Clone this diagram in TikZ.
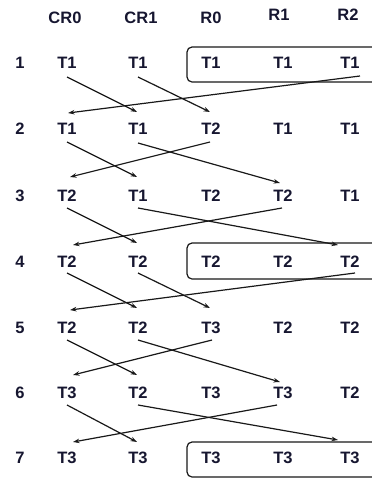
\documentclass[tikz,border=0pt]{standalone}
\usepackage{fontspec}
\setmainfont{Liberation Sans}
\usetikzlibrary{arrows.meta}
\definecolor{txt}{RGB}{22,22,48}
\definecolor{ln}{RGB}{25,25,25}
\begin{document}
\begin{tikzpicture}[x=1pt,y=-1pt,
  lab/.style={inner sep=0pt,text=txt,font=\fontsize{16.5}{18}\selectfont\bfseries},
  arr/.style={draw=ln,line width=1.2pt,-{Stealth[length=6.5pt,width=4.5pt]}},
  grp/.style={draw=ln,line width=1.2pt,rounded corners=5pt}]
\clip (0,0) rectangle (372,480);
\fill[white] (0,0) rectangle (372,480);
% headers
\node[lab] (hc0) at (65,18) {CR0};
\node[lab] (hc1) at (141,18) {CR1};
\node[lab] (hc2) at (211,18) {R0};
\node[lab] (hc3) at (279,15) {R1};
\node[lab] (hc4) at (348,15) {R2};
% row labels and cells
\foreach \r/\y/\a/\b/\c/\d/\e in {1/63/T1/T1/T1/T1/T1, 2/129/T1/T1/T2/T1/T1, 3/196/T2/T1/T2/T2/T1, 4/262/T2/T2/T2/T2/T2, 5/328/T2/T2/T3/T2/T2, 6/393/T3/T2/T3/T3/T2, 7/458/T3/T3/T3/T3/T3}{
  \node[lab] (n\r) at (20,\y) {\r};
  \node[lab] (r\r c0) at (67,\y) {\a};
  \node[lab] (r\r c1) at (138,\y) {\b};
  \node[lab] (r\r c2) at (211,\y) {\c};
  \node[lab] (r\r c3) at (283,\y) {\d};
  \node[lab] (r\r c4) at (350,\y) {\e};
}
% group boxes
\draw[grp] ([shift={(-24,-16)}]r1c2.center) rectangle ([shift={(30,19)}]r1c4.center);
\draw[grp] ([shift={(-24,-19)}]r4c2.center) rectangle ([shift={(30,17)}]r4c4.center);
\draw[grp] ([shift={(-24,-16)}]r7c2.center) rectangle ([shift={(30,19)}]r7c4.center);
% row 1 -> 2
\draw[arr] ([shift={(0,14)}]r1c0.center) -- ([shift={(-1,-17)}]r2c1.center);
\draw[arr] ([shift={(0,14)}]r1c1.center) -- ([shift={(-1,-17)}]r2c2.center);
\draw[arr] ([shift={(10,13)}]r1c4.center) -- ([shift={(1,-16)}]r2c0.center);
% row 2 -> 3
\draw[arr] ([shift={(0,13)}]r2c0.center) -- ([shift={(-1,-19)}]r3c1.center);
\draw[arr] ([shift={(0,14)}]r2c1.center) -- ([shift={(-3,-13)}]r3c3.center);
\draw[arr] ([shift={(-1,13)}]r2c2.center) -- ([shift={(3,-19)}]r3c0.center);
% row 3 -> 4
\draw[arr] ([shift={(0,12)}]r3c0.center) -- ([shift={(-1,-19)}]r4c1.center);
\draw[arr] ([shift={(0,12)}]r3c1.center) -- ([shift={(-12,-17)}]r4c4.center);
\draw[arr] ([shift={(-1,12)}]r3c3.center) -- ([shift={(6,-17)}]r4c0.center);
% row 4 -> 5
\draw[arr] ([shift={(0,11)}]r4c0.center) -- ([shift={(-1,-20)}]r5c1.center);
\draw[arr] ([shift={(0,11)}]r4c1.center) -- ([shift={(-1,-20)}]r5c2.center);
\draw[arr] ([shift={(5,11)}]r4c4.center) -- ([shift={(3,-18)}]r5c0.center);
% row 5 -> 6
\draw[arr] ([shift={(0,12)}]r5c0.center) -- ([shift={(-1,-18)}]r6c1.center);
\draw[arr] ([shift={(0,12)}]r5c1.center) -- ([shift={(-3,-11)}]r6c3.center);
\draw[arr] ([shift={(1,12)}]r5c2.center) -- ([shift={(6,-18)}]r6c0.center);
% row 6 -> 7
\draw[arr] ([shift={(0,12)}]r6c0.center) -- ([shift={(-1,-16)}]r7c1.center);
\draw[arr] ([shift={(0,12)}]r6c1.center) -- ([shift={(-12,-18)}]r7c4.center);
\draw[arr] ([shift={(-6,12)}]r6c3.center) -- ([shift={(6,-16)}]r7c0.center);
\end{tikzpicture}
\end{document}
